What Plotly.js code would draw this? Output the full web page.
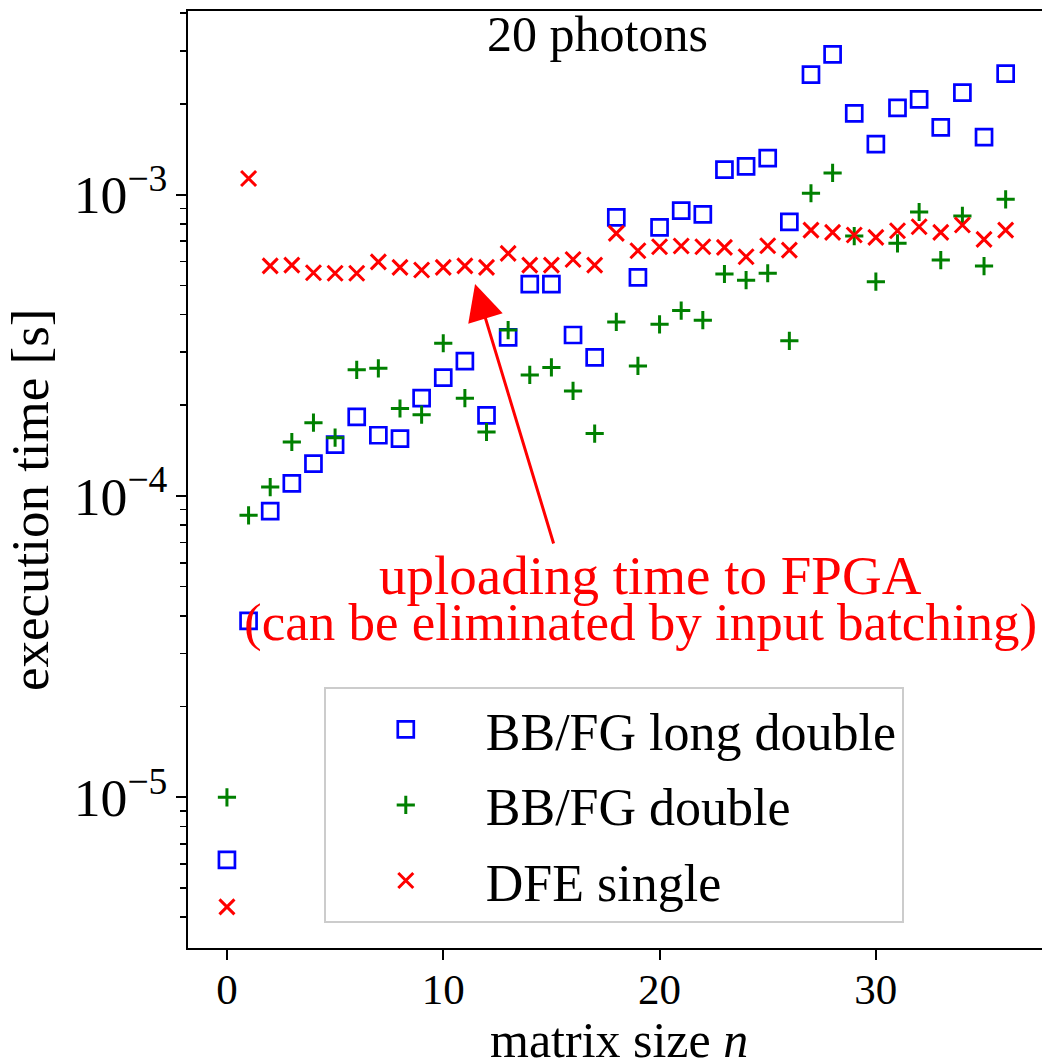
<!DOCTYPE html>
<html>
<head>
<meta charset="utf-8">
<script src="https://cdn.plot.ly/plotly-3.0.1.min.js"></script>
<style>
html,body{margin:0;padding:0;background:#fff;}
#chart{width:1042px;height:1064px;}
</style>
</head>
<body>
<div id="chart"></div>
<script>
// matrix size n
const matrixSize = [0,1,2,3,4,5,6,7,8,9,10,11,12,13,14,15,16,17,18,19,20,21,22,23,24,25,26,27,28,29,30,31,32,33,34,35,36];

// execution time [s]
const bbfgLongDouble = [6.2e-6,3.85e-5,8.9e-5,1.10e-4,1.28e-4,1.48e-4,1.83e-4,1.59e-4,1.55e-4,2.11e-4,2.47e-4,2.80e-4,1.85e-4,3.36e-4,5.04e-4,5.04e-4,3.42e-4,2.88e-4,8.40e-4,5.31e-4,7.78e-4,8.84e-4,8.60e-4,1.21e-3,1.24e-3,1.32e-3,8.12e-4,2.50e-3,2.92e-3,1.86e-3,1.47e-3,1.94e-3,2.07e-3,1.67e-3,2.18e-3,1.55e-3,2.52e-3];
const bbfgDouble = [1.0e-5,8.62e-5,1.07e-4,1.51e-4,1.75e-4,1.56e-4,2.62e-4,2.65e-4,1.95e-4,1.86e-4,3.21e-4,2.11e-4,1.63e-4,3.55e-4,2.52e-4,2.67e-4,2.23e-4,1.61e-4,3.78e-4,2.70e-4,3.71e-4,4.12e-4,3.83e-4,5.45e-4,5.20e-4,5.48e-4,3.27e-4,1.01e-3,1.18e-3,7.28e-4,5.14e-4,6.89e-4,8.75e-4,6.06e-4,8.49e-4,5.79e-4,9.64e-4];
const dfeSingle = [4.33e-6,1.13e-3,5.80e-4,5.83e-4,5.50e-4,5.48e-4,5.48e-4,5.98e-4,5.73e-4,5.62e-4,5.73e-4,5.80e-4,5.73e-4,6.38e-4,5.83e-4,5.83e-4,6.09e-4,5.83e-4,7.43e-4,6.51e-4,6.71e-4,6.75e-4,6.71e-4,6.68e-4,6.22e-4,6.76e-4,6.54e-4,7.62e-4,7.49e-4,7.34e-4,7.21e-4,7.58e-4,7.82e-4,7.49e-4,7.92e-4,7.10e-4,7.62e-4];

const seriesNames = ['BB/FG long double','BB/FG double','DFE single'];
const titleText = '20 photons';
const xLabel = 'matrix size <i>n</i>';
const yLabel = 'execution time [s]';
const noteLine1 = 'uploading time to FPGA';
const noteLine2 = '(can be eliminated by input batching)';
// arrow tip (matrix size, execution time [s])
const arrowTipN = 11.47;
const arrowTipT = 5.05e-4;

const FONT = 'Liberation Serif, Times New Roman, serif';

const traces = [
  {x: matrixSize, y: bbfgLongDouble, name: seriesNames[0], type: 'scatter', mode: 'markers', legendgroup: 'a',
   marker: {symbol: 'square-open', size: 16, color: '#0000ff', line: {width: 2.7, color: '#0000ff'}}},
  {x: matrixSize, y: bbfgDouble, name: seriesNames[1], type: 'scatter', mode: 'markers', legendgroup: 'b',
   marker: {symbol: 'cross-thin-open', size: 13, color: '#008000', line: {width: 3, color: '#008000'}}},
  {x: matrixSize, y: dfeSingle, name: seriesNames[2], type: 'scatter', mode: 'markers', legendgroup: 'c',
   marker: {symbol: 'x-thin-open', size: 15, color: '#ff0000', line: {width: 3, color: '#ff0000'}}}
];

const layout = {
  width: 1042, height: 1064,
  margin: {l: 188, r: 0, t: 11, b: 116},
  paper_bgcolor: '#ffffff', plot_bgcolor: '#ffffff',
  font: {family: FONT, size: 48, color: '#000'},
  showlegend: true,
  xaxis: {
    range: [-1.8, 37.68], showgrid: false, zeroline: false,
    showline: true, linecolor: '#000', linewidth: 2, mirror: true,
    ticks: 'outside', ticklen: 10, tickwidth: 2, tickcolor: '#000',
    tickvals: [0, 10, 20, 30], ticklabelstandoff: -8,
    tickfont: {family: FONT, size: 43}
  },
  yaxis: {
    type: 'log', range: [-5.5, -2.391], showgrid: false, zeroline: false,
    showline: true, linecolor: '#000', linewidth: 2, mirror: false,
    ticks: 'outside', ticklen: 10, tickwidth: 2, tickcolor: '#000',
    dtick: 1, exponentformat: 'power',
    tickfont: {family: FONT, size: 43},
    minor: {ticks: 'outside', ticklen: 6, tickwidth: 1.5, tickcolor: '#000', showgrid: false}
  },
  legend: {
    x: 0.159, y: 0.0267, xanchor: 'left', yanchor: 'bottom',
    bgcolor: 'rgba(255,255,255,0.8)', bordercolor: '#cccccc', borderwidth: 2,
    font: {family: FONT, size: 52, color: '#000'},
    traceorder: 'grouped', tracegroupgap: 5, itemwidth: 150
  },
  annotations: [
    {xref: 'paper', yref: 'paper', x: -0.185, y: 0.478, text: yLabel, textangle: -90, showarrow: false,
     xanchor: 'center', yanchor: 'middle', font: {family: FONT, size: 53, color: '#000'}},
    {xref: 'paper', yref: 'paper', x: 0.505, y: -0.098, text: xLabel, showarrow: false,
     xanchor: 'center', yanchor: 'middle', font: {family: FONT, size: 50, color: '#000'}},
    {xref: 'paper', yref: 'paper', x: 0.479, y: 0.975, text: titleText, showarrow: false,
     xanchor: 'center', yanchor: 'middle', font: {family: FONT, size: 50, color: '#000'}},
    {xref: 'paper', yref: 'paper', x: 0.541, y: 0.398, text: noteLine1, showarrow: false,
     xanchor: 'center', yanchor: 'middle', font: {family: FONT, size: 55, color: '#ff0000'}},
    {xref: 'paper', yref: 'paper', x: 0.530, y: 0.347, text: noteLine2, showarrow: false,
     xanchor: 'center', yanchor: 'middle', font: {family: FONT, size: 53, color: '#ff0000'}},
    {xref: 'x', yref: 'y', x: arrowTipN, y: Math.log10(arrowTipT), text: '', showarrow: true,
     ax: 79, ay: 261, arrowhead: 2, arrowsize: 2.4, arrowwidth: 3, arrowcolor: '#ff0000', standoff: 0}
  ]
};

Plotly.newPlot('chart', traces, layout, {staticPlot: true, displayModeBar: false});
</script>
</body>
</html>
